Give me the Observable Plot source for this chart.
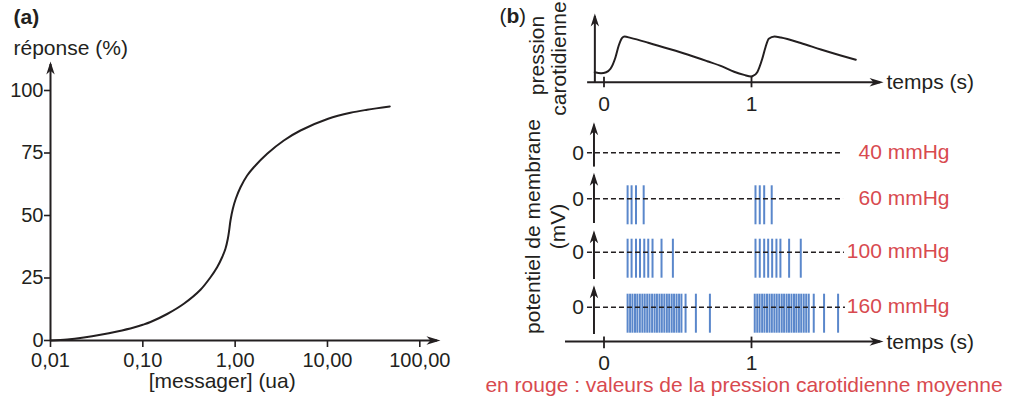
<!DOCTYPE html>
<html>
<head>
<meta charset="utf-8">
<script src="https://cdn.jsdelivr.net/npm/d3@7"></script>
<script src="https://cdn.jsdelivr.net/npm/@observablehq/plot@0.6"></script>
<style>
  body { margin: 0; background: #fff; }
  #chart { position: relative; width: 1021px; height: 398px; background: #fff; }
  #chart svg { position: absolute; left: 0; top: 0; overflow: visible; }
</style>
</head>
<body>
<div id="chart"></div>
<script>
// ---------- Panel (a): dose-response ----------
const messager = [0.01, 0.01515, 0.02296, 0.03479, 0.05272, 0.0799, 0.1, 0.1211, 0.1835, 0.278, 0.4213, 0.541, 0.638, 0.7225, 0.785, 0.833, 0.861, 0.890, 0.944, 1.016, 1.143, 1.349, 1.593, 2.222, 3.367, 5.10, 10.17, 17.75, 26.9, 47.3];
const reponse  = [0, 0.4, 1.2, 2.27, 3.6, 5.2, 6.3, 7.4, 10.6, 14.7, 20.3, 25.3, 29.3, 33.3, 36.7, 40.7, 44, 48, 52.7, 56.7, 61.3, 66, 69.3, 74.7, 80, 84, 88.7, 91.1, 92.3, 93.6];
const xTicksA = [0.01, 0.1, 1, 10, 100];
const xTickLabelsA = ["0,01", "0,10", "1,00", "10,00", "100,00"];
const yTicksA = [0, 25, 50, 75, 100];

// ---------- Panel (b): carotid pressure ----------
const pressureTime = [-0.063, -0.02, 0.015, 0.044, 0.078, 0.100, 0.123, 0.139, 0.18, 0.30, 0.45, 0.566, 0.70, 0.80, 0.882, 0.95, 0.998, 1.009, 1.039, 1.073, 1.095, 1.117, 1.156, 1.199, 1.334, 1.470, 1.605, 1.707];
const pressure     = [10, 9.0, 10, 13.4, 25, 36.7, 44.4, 45.7, 44.3, 39.5, 33, 27.7, 21, 15.8, 10.5, 7.3, 5.7, 6.2, 10, 23.4, 35, 43.4, 45.7, 44.7, 39.2, 32.7, 26.7, 22.4];
const timeTicks = [0, 1];

// ---------- Panel (b): action potentials (spike times, s) ----------
const rowLabels = ["40 mmHg", "60 mmHg", "100 mmHg", "160 mmHg"];
const spikes40 = [];
const spikes60 = [0.160, 0.187, 0.217, 0.269, 1.027, 1.056, 1.086, 1.137];
const spikes100 = [0.160, 0.187, 0.217, 0.244, 0.273, 0.300, 0.329, 0.390, 0.467,
                   1.027, 1.056, 1.086, 1.113, 1.140, 1.169, 1.196, 1.255, 1.334];
const spikes160 = [0.160, 0.177, 0.193, 0.210, 0.226, 0.243, 0.260, 0.276, 0.293, 0.309, 0.326, 0.343,
                   0.359, 0.376, 0.392, 0.409, 0.426, 0.442, 0.459, 0.475, 0.492, 0.509, 0.525,
                   0.553, 0.623, 0.718,
                   1.022, 1.039, 1.055, 1.072, 1.088, 1.105, 1.122, 1.138, 1.155, 1.171, 1.188, 1.205,
                   1.221, 1.238, 1.254, 1.271, 1.288, 1.304, 1.321, 1.337, 1.354, 1.371, 1.388,
                   1.422, 1.492, 1.587];
const rowSpikes = [spikes40, spikes60, spikes100, spikes160];
const spikeTop = 20, spikeBottom = -40; // mV extent of drawn spikes

// ---------- styling / layout ----------
const FONT = '"Liberation Sans", Arial, Helvetica, sans-serif';
const INK = "#231f20";
const RED = "#d84a4f";
const BLUE = "#5a87cb";
const W = 1021, H = 398;
const rowLayout = [
  {baseline: 152.3, axisTop: 42.5, axisBottom: -22, dashEnd: 1.617},
  {baseline: 198.3, axisTop: 35.4, axisBottom: -38, dashEnd: 1.624},
  {baseline: 251.7, axisTop: 29.1, axisBottom: -42, dashEnd: 1.630},
  {baseline: 306.7, axisTop: 29.1, axisBottom: -42, dashEnd: 1.637}
];

const arrowUp = {draw(ctx) { const L = 13, w = 4.2, o = 3;
  ctx.moveTo(0, -o); ctx.lineTo(w, L - o); ctx.lineTo(0, 0.72 * L - o); ctx.lineTo(-w, L - o); ctx.closePath(); }};
const arrowRight = {draw(ctx) { const L = 14, w = 4.2, o = 3;
  ctx.moveTo(o, 0); ctx.lineTo(o - L, w); ctx.lineTo(o - 0.72 * L, 0); ctx.lineTo(o - L, -w); ctx.closePath(); }};

function overlay(opts) {
  return Plot.plot({
    width: W, height: H,
    style: {background: "transparent", overflow: "visible", fontFamily: FONT, fontSize: "21px", color: INK},
    ...opts
  });
}
const chart = document.getElementById("chart");

// Panel (a)
const curveA = messager.map((c, i) => ({c, r: reponse[i]}));
const labA = new Map(xTicksA.map((d, i) => [d, xTickLabelsA[i]]));
chart.append(overlay({
  marginLeft: 50, marginRight: W - 419.3, marginTop: 90, marginBottom: H - 340,
  x: {type: "log", domain: [0.01, 100], axis: null},
  y: {domain: [0, 100], axis: null},
  marks: [
    Plot.axisY(yTicksA, {anchor: "left", tickSize: 6, tickPadding: 1, fontSize: 20, strokeWidth: 1.6, label: null, tickFormat: d => String(d)}),
    Plot.axisX(xTicksA, {anchor: "bottom", tickSize: 7, tickPadding: 5, fontSize: 20, strokeWidth: 1.6, label: null, tickFormat: d => labA.get(d)}),
    Plot.ruleY([0], {x1: 0.01, x2: 155.4, stroke: INK, strokeWidth: 2}),
    Plot.ruleX([0.01], {y1: 0, y2: 110.4, stroke: INK, strokeWidth: 2}),
    Plot.dot([[155.4, 0]], {x: d => d[0], y: d => d[1], symbol: arrowRight, fill: INK, stroke: "none"}),
    Plot.dot([[0.01, 110.4]], {x: d => d[0], y: d => d[1], symbol: arrowUp, fill: INK, stroke: "none"}),
    Plot.line(curveA, {x: "c", y: "r", curve: "catmull-rom", stroke: INK, strokeWidth: 2})
  ]
}));

// Panel (b) top: pressure
const pressureData = pressureTime.map((t, i) => ({t, p: pressure[i]}));
chart.append(overlay({
  marginLeft: 603.5, marginRight: W - 751, marginTop: 31.7, marginBottom: H - 81.7,
  x: {domain: [0, 1], axis: null},
  y: {domain: [0, 50], axis: null},
  marks: [
    Plot.ruleY([0], {x1: -0.111, x2: 1.875, stroke: INK, strokeWidth: 2}),
    Plot.ruleX([-0.062], {y1: -1.3, y2: 65.7, stroke: INK, strokeWidth: 2}),
    Plot.dot([[1.875, 0]], {x: d => d[0], y: d => d[1], symbol: arrowRight, fill: INK, stroke: "none"}),
    Plot.dot([[-0.062, 65.7]], {x: d => d[0], y: d => d[1], symbol: arrowUp, fill: INK, stroke: "none"}),
    Plot.ruleX(timeTicks, {y1: -5.6, y2: 5, stroke: INK, strokeWidth: 1.8}),
    Plot.text(timeTicks, {x: d => d, y: 0, dy: 22, text: d => String(d), fontSize: 21, fill: INK}),
    Plot.line(pressureData, {x: "t", y: "p", curve: "monotone-x", stroke: INK, strokeWidth: 2})
  ]
}));

// Panel (b) rows: action potentials
rowLabels.forEach((label, i) => {
  const L = rowLayout[i];
  chart.append(overlay({
    marginLeft: 603.5, marginRight: W - 751, marginTop: L.baseline - 13, marginBottom: H - (L.baseline + 26),
    x: {domain: [0, 1], axis: null},
    y: {domain: [spikeBottom, spikeTop], axis: null},
    marks: [
      Plot.ruleX(rowSpikes[i], {x: d => d, y1: spikeBottom, y2: spikeTop, stroke: BLUE, strokeWidth: 2}),
      Plot.ruleY([0], {x1: -0.112, x2: L.dashEnd, stroke: INK, strokeWidth: 1.6, strokeDasharray: "5,3"}),
      Plot.ruleX([-0.068], {y1: L.axisBottom, y2: L.axisTop, stroke: INK, strokeWidth: 2}),
      Plot.dot([[-0.068, L.axisTop]], {x: d => d[0], y: d => d[1], symbol: arrowUp, fill: INK, stroke: "none"}),
      Plot.text(["0"], {x: -0.068, y: 0, dx: -10, text: d => d, textAnchor: "end", fontSize: 21, fill: INK}),
      Plot.text([label], {frameAnchor: "right", y: 0, dx: 198, dy: -1, text: d => d, textAnchor: "end", fontSize: 21, fill: RED})
    ]
  }));
});

// Panel (b) bottom time axis
chart.append(overlay({
  marginLeft: 603.5, marginRight: W - 751, marginTop: 330, marginBottom: H - 341,
  x: {domain: [0, 1], axis: null},
  y: {domain: [0, 1], axis: null},
  marks: [
    Plot.ruleY([0], {x1: -0.261, x2: 1.875, stroke: INK, strokeWidth: 2}),
    Plot.dot([[1.875, 0]], {x: d => d[0], y: d => d[1], symbol: arrowRight, fill: INK, stroke: "none"}),
    Plot.ruleX(timeTicks, {y1: -0.65, y2: 0.4, stroke: INK, strokeWidth: 1.8}),
    Plot.text(timeTicks, {x: d => d, y: 0, dy: 22, text: d => String(d), fontSize: 21, fill: INK})
  ]
}));

// Free text annotations
const notes = [
  {t: "(a)", x: 13, y: 17, anchor: "start", weight: "bold"},
  {t: "réponse (%)", x: 13, y: 48, anchor: "start"},
  {t: "[messager] (ua)", x: 221.7, y: 381, anchor: "middle"},
  {t: "(", x: 499, y: 16, anchor: "start"},
  {t: "b", x: 506, y: 16, anchor: "start", weight: "bold"},
  {t: ")", x: 518.5, y: 16, anchor: "start"},
  {t: "pression", x: 537, y: 55, anchor: "middle", rotate: -90},
  {t: "carotidienne", x: 559, y: 58, anchor: "middle", rotate: -90},
  {t: "potentiel de membrane", x: 533, y: 226, anchor: "middle", rotate: -90},
  {t: "(mV)", x: 558, y: 226, anchor: "middle", rotate: -90},
  {t: "temps (s)", x: 886, y: 82, anchor: "start"},
  {t: "temps (s)", x: 886, y: 342, anchor: "start"},
  {t: "en rouge : valeurs de la pression carotidienne moyenne", x: 743.5, y: 385, anchor: "middle", color: RED}
];
chart.append(overlay({
  margin: 0,
  marks: notes.map(n => Plot.text([n.t], {
    frameAnchor: "top-left", dx: n.x, dy: n.y, text: d => d,
    textAnchor: n.anchor, lineAnchor: "middle", rotate: n.rotate || 0,
    fontSize: 21, fontWeight: n.weight || "normal", fill: n.color || INK
  }))
}));
</script>
</body>
</html>
